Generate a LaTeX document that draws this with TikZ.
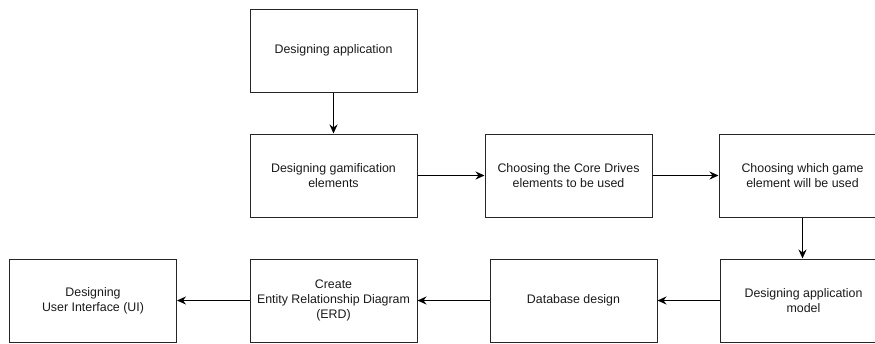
\documentclass[tikz,border=0pt]{standalone}
\usepackage{fontspec}
\setmainfont{Liberation Sans}
\usetikzlibrary{arrows.meta}
\begin{document}
\begin{tikzpicture}[x=1pt,y=-1pt,
  stepbox/.style={draw=black!85, line width=1pt, minimum width=167pt, minimum height=83pt,
    inner sep=2pt, align=center, font=\fontsize{12.4}{15}\selectfont, text=black!90},
  flow/.style={draw=black, line width=1.3pt, -{Stealth[length=9pt,width=8pt,inset=3pt]}}]
\useasboundingbox (0,0) rectangle (875,343);
\clip (0,0) rectangle (875,343);
% top row
\node[stepbox] (app)  at (333.5,50.5)  {Designing application};
\node[stepbox] (gam)  at (333.5,175.5) {Designing gamification\\elements};
\node[stepbox] (core) at (568.5,175.5) {Choosing the Core Drives\\elements to be used};
\node[stepbox] (game) at (802.5,175.5) {Choosing which game\\element will be used};
% bottom row
\node[stepbox] (model) at (803.5,300.5) {Designing application\\model};
\node[stepbox] (db)    at (573.5,300.5) {Database design};
\node[stepbox] (erd)   at (333.5,300.5) {Create\\Entity Relationship Diagram\\(ERD)};
\node[stepbox] (ui)    at (93,300.5)    {Designing\\User Interface (UI)};
% connectors
\draw[flow] (app) -- (gam);
\draw[flow] (gam) -- (core);
\draw[flow] (core) -- (game);
\draw[flow] (game.south) -- (game.south |- model.north);
\draw[flow] (model) -- (db);
\draw[flow] (db) -- (erd);
\draw[flow] (erd) -- (ui);
\end{tikzpicture}
\end{document}
